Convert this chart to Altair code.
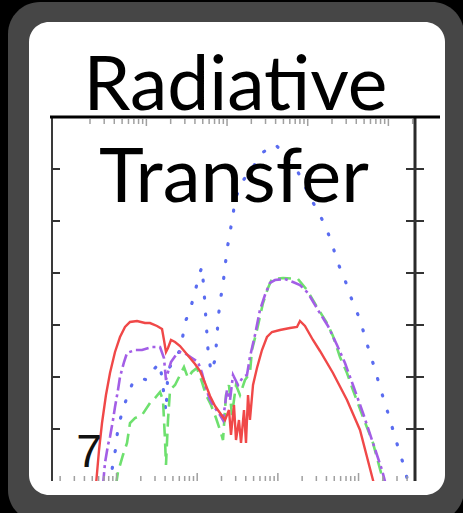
import altair as alt
import pandas as pd

# ---------------- data ----------------
# x: log10 wavelength (arbitrary units), y: log flux (arbitrary units)
red_x = [-0.255,-0.217,-0.180,-0.131,-0.081,-0.019,0.043,0.105,0.167,0.254,0.353,0.415,0.502,0.564,0.588,0.613,0.638,0.675,0.725,0.787,0.849,0.911,0.973,1.035,1.097,1.159,1.221,1.283,1.345,1.394,1.419,1.456,1.481,1.518,1.543,1.580,1.605,1.630,1.654,1.692,1.741,1.803,1.865,1.927,2.026,2.150,2.237,2.274,2.336,2.435,2.522,2.683,2.857,3.018,3.179,3.216]
red_y = [-0.08,0.596,1.115,1.654,2.077,2.481,2.769,2.962,3.058,3.077,3.038,3.038,2.981,2.923,2.712,2.481,2.558,2.712,2.673,2.596,2.481,2.365,2.25,2.115,1.885,1.635,1.442,1.308,1.173,1.365,0.885,1.462,0.788,1.173,0.731,1.365,0.731,1.654,1.173,1.846,2.173,2.519,2.769,2.865,2.904,2.942,2.962,3.077,2.981,2.712,2.5,2.077,1.558,0.981,0.019,-0.21]

blue_x = [-0.081,-0.044,-0.007,0.018,0.068,0.130,0.204,0.291,0.378,0.477,0.539,0.588,0.613,0.638,0.700,0.787,0.824,0.861,0.911,0.973,1.022,1.059,1.084,1.109,1.134,1.171,1.221,1.245,1.258,1.283,1.320,1.345,1.369,1.407,1.444,1.468,1.555,1.692,1.803,1.964,2.088,2.237,2.398,2.522,2.609,2.683,2.745,2.832,2.894,2.981,3.055,3.117,3.179,3.241,3.303,3.365,3.427,3.489,3.551,3.601,3.625]
blue_y = [-0.08,0.346,0.654,1.038,1.308,1.615,1.904,1.981,1.942,2.173,2.269,1.654,1.327,2.135,2.288,2.519,2.808,3.096,3.288,3.635,3.962,4.115,3.673,3.096,2.519,2.096,2.327,2.769,3.096,3.442,3.788,4.115,4.442,4.788,5.115,5.404,5.75,6.038,6.308,6.481,6.269,5.981,5.462,5.115,4.827,4.5,4.192,3.865,3.577,3.25,2.904,2.577,2.269,1.942,1.615,1.308,0.981,0.654,0.346,0.058,-0.17]

green_x = [-0.007,0.018,0.080,0.130,0.167,0.229,0.316,0.415,0.477,0.539,0.576,0.601,0.613,0.638,0.663,0.725,0.787,0.836,0.886,0.935,0.997,1.059,1.109,1.171,1.233,1.283,1.320,1.357,1.394,1.431,1.481,1.530,1.592,1.654,1.679,1.741,1.816,1.878,1.927,2.064,2.249,2.361,2.485,2.609,2.683,2.770,2.857,2.931,3.055,3.179,3.303,3.328]
green_y = [-0.08,0.173,0.5,0.731,1.115,1.212,1.269,1.5,1.596,1.712,1.558,0.788,0.308,1.173,1.75,1.846,2.038,2.192,1.981,2.096,2.173,1.904,1.654,1.462,1.212,0.981,0.788,1.654,1.846,1.269,1.846,1.654,1.942,2.077,2.519,2.904,3.423,3.712,3.885,3.904,3.885,3.673,3.346,3.038,2.788,2.385,2.077,1.75,1.231,0.731,0.019,-0.13]

purple_x = [-0.168,-0.143,-0.106,-0.081,-0.044,-0.019,0.018,0.043,0.093,0.130,0.229,0.316,0.440,0.539,0.588,0.613,0.638,0.675,0.737,0.787,0.861,0.935,1.010,1.059,1.109,1.159,1.221,1.283,1.320,1.369,1.407,1.444,1.506,1.568,1.617,1.654,1.716,1.778,1.840,1.902,1.964,2.088,2.187,2.274,2.373,2.497,2.621,2.733,2.832,2.931,3.055,3.167,3.291,3.340]
purple_y = [-0.08,0.346,0.692,0.846,1.173,1.423,1.75,2.0,2.288,2.462,2.519,2.519,2.577,2.577,2.365,1.942,2.096,2.288,2.423,2.481,2.442,2.365,2.288,2.077,1.788,1.558,1.404,1.269,1.173,1.75,1.558,2.038,1.846,2.0,2.038,2.385,2.808,3.288,3.577,3.808,3.865,3.885,3.827,3.769,3.615,3.288,2.981,2.615,2.269,1.846,1.308,0.788,0.212,-0.08]

y_ticks = [1, 2, 3, 4, 5, 6]
x_major_bottom = [0, 1, 2, 3]
x_minor_bottom = [n + m for n in [-1, 0, 1, 2, 3] for m in [0.301, 0.477, 0.602, 0.699, 0.778, 0.845, 0.903, 0.954]]
x_shift_top = 0.37
title_1 = "Radiative"
title_2 = "Transfer"
corner_label = "7"

# ---------------- layout ----------------
W, H = 363, 364
PAD = {"left": 52, "top": 117, "right": 48, "bottom": 32}
XD = [-0.8, 3.7]
xs = alt.Scale(domain=XD)
ys = alt.Scale(domain=[0, 7])
one = pd.DataFrame({"k": [0]})


def df_of(xv, yv):
    pts = list(zip(xv, yv))
    return pd.DataFrame({"x": [p[0] for p in pts], "y": [p[1] for p in pts], "i": list(range(len(pts)))})


def line(xv, yv, color, width, dash=None, cap="butt"):
    kw = dict(color=color, strokeWidth=width, clip=True, strokeCap=cap)
    if dash is not None:
        kw["strokeDash"] = dash
    return alt.Chart(df_of(xv, yv)).mark_line(**kw).encode(
        x=alt.X("x:Q", scale=xs, axis=None),
        y=alt.Y("y:Q", scale=ys, axis=None),
        order="i:Q",
    )


gray = alt.Chart(one).mark_rect(color="#464646", cornerRadius=32).encode(
    x=alt.value(-44), x2=alt.value(412), y=alt.value(-115), y2=alt.value(405))
white = alt.Chart(one).mark_rect(color="white", cornerRadius=20).encode(
    x=alt.value(-23), x2=alt.value(393), y=alt.value(-95), y2=alt.value(378))

blue = line(blue_x, blue_y, "#5a6cf0", 3.2, [1, 16], "round")
green = line(green_x, green_y, "#6ee06e", 2.6, [13, 7])
purple = line(purple_x, purple_y, "#a35ee6", 2.6, [13, 4, 3, 4])
red = line(red_x, red_y, "#f04848", 2.4)

left_line = alt.Chart(one).mark_rule(color="#3a3a3a", strokeWidth=2).encode(
    x=alt.value(0), y=alt.value(0), y2=alt.value(H))
right_line = alt.Chart(one).mark_rule(color="#2a2a2a", strokeWidth=3).encode(
    x=alt.value(W), y=alt.value(0), y2=alt.value(H))
top_line = alt.Chart(one).mark_rule(color="black", strokeWidth=3).encode(
    x=alt.value(-2), x2=alt.value(388), y=alt.value(0))

yt = pd.DataFrame({"v": y_ticks})
ytick_l = alt.Chart(yt).mark_rule(color="#333333", strokeWidth=2).encode(
    y=alt.Y("v:Q", scale=ys, axis=None), x=alt.value(0), x2=alt.value(8))
ytick_r = alt.Chart(yt).mark_rule(color="#333333", strokeWidth=2).encode(
    y=alt.Y("v:Q", scale=ys, axis=None), x=alt.value(354), x2=alt.value(372))


def in_dom(vals):
    return [v for v in vals if XD[0] < v < XD[1]]


def xticks(vals, y1, y2):
    return alt.Chart(pd.DataFrame({"v": in_dom(vals)})).mark_rule(color="#a0a0a0", strokeWidth=1.5).encode(
        x=alt.X("v:Q", scale=xs, axis=None), y=alt.value(y1), y2=alt.value(y2))


bt_minor = xticks(x_minor_bottom, H - 5, H)
bt_major = xticks(x_major_bottom, H - 8, H)
tt_minor = xticks([v + x_shift_top for v in x_minor_bottom], 2, 7)
tt_major = xticks([v + x_shift_top for v in x_major_bottom], 2, 9)

t1 = alt.Chart(one).mark_text(text=title_1, font="Lato", fontSize=75, align="center",
                              baseline="alphabetic", color="black").encode(
    x=alt.value(183.5), y=alt.value(-7))
t2 = alt.Chart(one).mark_text(text=title_2, font="Lato", fontSize=76, align="center",
                              baseline="alphabetic", color="black").encode(
    x=alt.value(182), y=alt.value(85))
t7 = alt.Chart(one).mark_text(text=corner_label, font="Liberation Sans", fontSize=46, align="center",
                              baseline="alphabetic", color="#111111").encode(
    x=alt.value(37), y=alt.value(350))

chart = alt.layer(
    gray, white, blue, green, purple, red,
    bt_minor, bt_major, tt_minor, tt_major,
    left_line, right_line, top_line, ytick_l, ytick_r,
    t2, t7, t1,
).properties(
    width=W, height=H, padding=PAD,
    autosize=alt.AutoSizeParams(type="none"),
    background="black",
).configure_view(strokeWidth=0)

chart.save("out.html", embed_options={"renderer": "svg", "actions": False})
